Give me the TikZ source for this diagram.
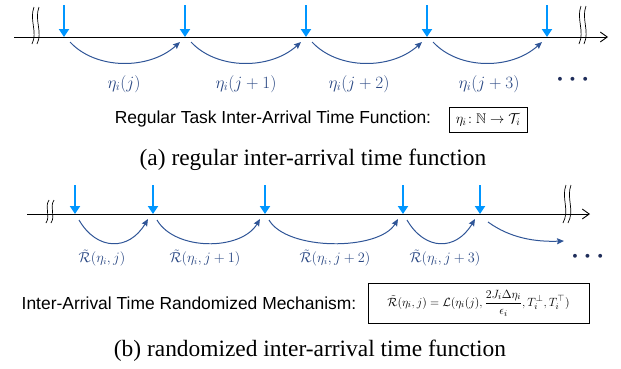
\documentclass[tikz,border=0pt]{standalone}
\usepackage{amsmath,amssymb}
\usepackage{fontspec}
\setmainfont{Liberation Serif}
\setsansfont{Liberation Sans}
\usetikzlibrary{arrows.meta,calc}
\definecolor{tickblue}{RGB}{0,150,255}
\definecolor{curveblue}{RGB}{47,85,151}
\definecolor{labblue}{RGB}{40,70,130}
\definecolor{dotnavy}{RGB}{31,45,90}
\tikzset{
  axis/.style={line width=0.9pt,-{Straight Barb[length=7pt,width=10pt]}},
  tick/.style={draw=tickblue,line width=2.8pt,-{Triangle[length=8pt,width=10pt]}},
  curve/.style={draw=curveblue,line width=1pt,-{Stealth[length=7pt,width=6pt,inset=1pt]}},
  brk/.style={line width=0.7pt},
  laba/.style={text=labblue,font=\fontsize{18}{20}\selectfont},
  labb/.style={text=labblue,font=\fontsize{13.5}{16}\selectfont},
  dotstyle/.style={text=dotnavy,font=\fontsize{25}{25}\selectfont},
  sans/.style={font=\sffamily\fontsize{17.5}{20}\selectfont},
  fbox/.style={draw,line width=0.8pt,inner sep=3pt},
  captext/.style={font=\fontsize{23.5}{26}\selectfont}
}
\begin{document}
\begin{tikzpicture}[x=1bp,y=-1bp]
\useasboundingbox (0,0) rectangle (621,368);
% ---------- (a) ----------
\coordinate (aL) at (14,37);
\coordinate (aR) at (608,37);
\draw[axis] (aL) -- (aR);
\draw[brk] (34,7) .. controls (29,20) and (38,32) .. (32,44);
\draw[brk] (39,7) .. controls (34,20) and (43,32) .. (37,44);
\draw[brk] (581,6) .. controls (576,19) and (585,31) .. (579,44);
\draw[brk] (586,6) .. controls (581,19) and (590,31) .. (584,44);
\foreach \i/\x in {1/64,2/185,3/306,4/427,5/547}{
  \coordinate (at\i) at (\x,5);
  \coordinate (ab\i) at (\x,37);
}
\foreach \i in {1,...,5}{\draw[tick] (at\i) -- (ab\i);}
\foreach \i/\j in {1/2,2/3,3/4,4/5}{
  \draw[curve] ($(ab\i)+(6,5)$) .. controls ($(ab\i)+(32,33)$) and ($(ab\j)+(-36,33)$) .. ($(ab\j)+(-5,5)$);
}
\node[laba] (la1) at (124,84) {$\eta_i(j)$};
\node[laba] (la2) at (246,84) {$\eta_i(j+1)$};
\node[laba] (la3) at (359,84) {$\eta_i(j+2)$};
\node[laba] (la4) at (489,84) {$\eta_i(j+3)$};
\node[dotstyle] (da) at (575,80) {$\boldsymbol{\cdots}$};
\node[sans] (ta) at (273,119) {Regular Task Inter-Arrival Time Function:};
\node[fbox,minimum width=78bp,minimum height=25bp,inner sep=1pt,font=\fontsize{14}{16}\selectfont] (fa) at (488,119.5) {$\eta_i\!:\mathbb{N}\rightarrow\mathcal{T}_i$};
\node[captext] (ca) at (313,160) {(a) regular inter-arrival time function};
% ---------- (b) ----------
\coordinate (bL) at (27,214);
\coordinate (bR) at (590,214);
\draw[axis] (bL) -- (bR);
\draw[brk] (49,200) .. controls (44,208) and (51,215) .. (46,223);
\draw[brk] (54,200) .. controls (49,208) and (56,215) .. (51,223);
\draw[brk] (566,185) .. controls (561,198) and (570,210) .. (563,223);
\draw[brk] (571,185) .. controls (566,198) and (575,210) .. (568,223);
\foreach \i/\x in {1/75,2/153,3/265,4/403,5/480}{
  \coordinate (bt\i) at (\x,185);
  \coordinate (bb\i) at (\x,214);
}
\foreach \i in {1,...,5}{\draw[tick] (bt\i) -- (bb\i);}
\foreach \i/\j in {1/2,2/3,3/4,4/5}{
  \draw[curve] ($(bb\i)+(4,6)$) .. controls ($(bb\i)+(22,37)$) and ($(bb\j)+(-24,37)$) .. ($(bb\j)+(-5,5)$);
}
\coordinate (bend) at (564,241);
\draw[curve] ($(bb5)+(8,8)$) .. controls ($(bb5)+(30,24)$) and ($(bb5)+(55,28)$) .. (bend);
\node[labb] (lb1) at (102,258) {$\tilde{\mathcal{R}}(\eta_i,j)$};
\node[labb] (lb2) at (205,258) {$\tilde{\mathcal{R}}(\eta_i,j+1)$};
\node[labb] (lb3) at (335,258) {$\tilde{\mathcal{R}}(\eta_i,j+2)$};
\node[labb] (lb4) at (445,258) {$\tilde{\mathcal{R}}(\eta_i,j+3)$};
\node[dotstyle] (db) at (590,257) {$\boldsymbol{\cdots}$};
\node[sans] (tb) at (189,303) {Inter-Arrival Time Randomized Mechanism:};
\node[fbox,inner sep=2pt,minimum width=221bp,minimum height=40bp,font=\fontsize{12.5}{14}\selectfont] (fb) at (478.5,303) {$\tilde{\mathcal{R}}(\eta_i,j)=\mathcal{L}(\eta_i(j),\dfrac{2J_i\Delta\eta_i}{\epsilon_i},T_i^{\perp},T_i^{\top})$};
\node[captext] (cb) at (310,351) {(b) randomized inter-arrival time function};
\end{tikzpicture}
\end{document}
